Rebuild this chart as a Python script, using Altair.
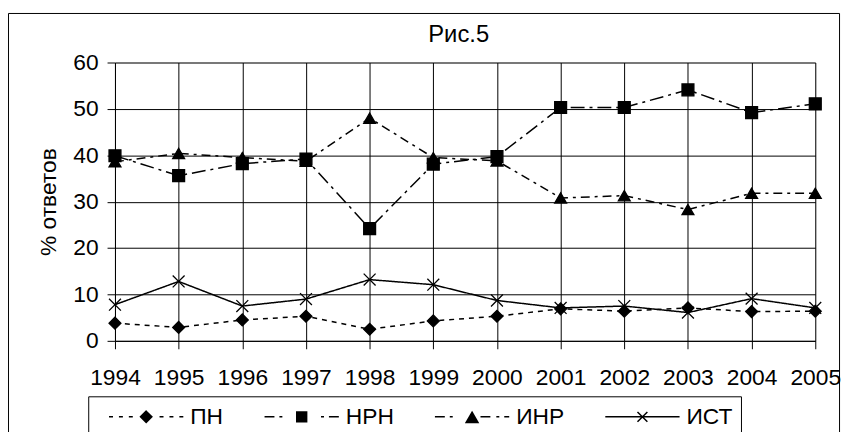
import math
import altair as alt
import pandas as pd

# ---------------- data ----------------
years = list(range(1994, 2006))
series_names = ["ПН", "НРН", "ИНР", "ИСТ"]
pn = [3.8, 2.9, 4.5, 5.3, 2.5, 4.3, 5.3, 6.9, 6.4, 7.1, 6.3, 6.4]
nrn = [39.9, 35.6, 38.2, 39.2, 24.2, 38.1, 39.7, 50.3, 50.3, 54.1, 49.2, 51.1]
inr = [38.6, 40.4, 39.5, 38.7, 48.0, 39.5, 38.8, 30.8, 31.3, 28.3, 31.8, 31.8]
ist = [7.8, 12.8, 7.5, 9.0, 13.2, 12.1, 8.7, 7.1, 7.5, 6.1, 9.1, 7.1]
y_ticks = [0, 10, 20, 30, 40, 50, 60]
title_text = "Рис.5"
y_title = "% ответов"

FONT = "Liberation Sans"

rows = []
for name, vals in zip(series_names, [pn, nrn, inr, ist]):
    for yr, v in zip(years, vals):
        rows.append({"year": yr, "value": v, "series": name})
df = pd.DataFrame(rows)

# ---------------- styles ----------------
dashes = [[5, 5], [14, 5, 3, 5], [9, 5, 3, 5], [1, 0]]
X_PATH = "M-1,-1L1,1M-1,1L1,-1"
marker_shapes = ["diamond", "square", "triangle-up", X_PATH]

# legend symbols: line pattern + marker, drawn as custom stroked paths
S = 23.5          # sqrt(symbolSize)
SW = 1.5          # symbol stroke width
U = S / 2.0       # px per path unit
C = math.ceil(S + SW) / 2.0   # centre of symbol box from entry start


def _pt(x, y):
    return f"{(x - C) / U:.4f},{y / U:.4f}"


def legend_path(segs, marker, start=13.0, length=75.0):
    mx = start + length / 2.0
    parts = []
    for a, b in segs:
        parts.append(f"M{_pt(start + a, 0)}L{_pt(start + b, 0)}")
    if marker == "x":
        parts.append(f"M{_pt(mx - 5, -5)}L{_pt(mx + 5, 5)}M{_pt(mx - 5, 5)}L{_pt(mx + 5, -5)}")
        return "".join(parts)
    # solid markers: nested outlines so the stroke fills them
    for r in [5.0, 4.0, 3.0, 2.0, 1.0, 0.3]:
        if marker == "diamond":
            q = r * 1.15
            parts.append(f"M{_pt(mx, -q)}L{_pt(mx + q, 0)}L{_pt(mx, q)}L{_pt(mx - q, 0)}Z")
        elif marker == "square":
            parts.append(f"M{_pt(mx - r, -r)}L{_pt(mx + r, -r)}L{_pt(mx + r, r)}L{_pt(mx - r, r)}Z")
        else:
            k = r / 5.0
            parts.append(
                f"M{_pt(mx, -5.5 * k + 0.8)}L{_pt(mx + 6 * k, 5 * k + 0.8)}L{_pt(mx - 6 * k, 5 * k + 0.8)}Z"
            )
    return "".join(parts)


legend_paths = [
    legend_path([(0, 4), (10, 14), (20, 24), (51, 55), (61, 65), (71, 75)], "diamond"),
    legend_path([(0, 10), (15, 18), (57, 60), (65, 75)], "square"),
    legend_path([(0, 10), (15, 18), (46, 56), (62, 65), (70, 75)], "triangle"),
    legend_path([(0, 75)], "x"),
]

x_enc = alt.X(
    "year:Q",
    scale=alt.Scale(domain=[1994, 2005], nice=False, zero=False),
    axis=alt.Axis(
        values=years, format="d", title=None, grid=True, gridColor="black",
        gridOpacity=1, tickColor="black", tickSize=8, domainColor="black",
        labelFontSize=23, labelFont=FONT, labelColor="black", labelPadding=18,
        labelFlush=False, labelOverlap=False,
    ),
)
y_enc = alt.Y(
    "value:Q",
    scale=alt.Scale(domain=[0, 60], nice=False),
    axis=alt.Axis(
        values=y_ticks, title=y_title, grid=True, gridColor="black", gridOpacity=1,
        tickColor="black", tickSize=8, domainColor="black",
        labelFontSize=23, labelFont=FONT, labelColor="black", labelPadding=9,
        titleFontSize=23, titleFont=FONT, titleFontWeight="normal",
        titleColor="black", titlePadding=12,
    ),
)

lines = alt.Chart(df).mark_line(color="black", strokeWidth=1.5).encode(
    x=x_enc,
    y=y_enc,
    strokeDash=alt.StrokeDash(
        "series:N",
        scale=alt.Scale(domain=series_names, range=dashes),
        legend=None,
    ),
    detail="series:N",
)

points = alt.Chart(df).mark_point(
    filled=True, color="black", stroke="black", strokeWidth=1.3, opacity=1, size=144
).encode(
    x="year:Q",
    y="value:Q",
    shape=alt.Shape(
        "series:N",
        scale=alt.Scale(domain=series_names, range=marker_shapes),
        legend=None,
    ),
)

legend_layer = alt.Chart(df).transform_filter("datum.value < -1000").mark_point(
    filled=False, color="black", strokeWidth=SW, opacity=1
).encode(
    x="year:Q",
    y="value:Q",
    shape=alt.Shape(
        "series:N",
        scale=alt.Scale(domain=series_names, range=legend_paths),
        legend=alt.Legend(
            title=None, orient="none", legendX=-27, legendY=337,
            direction="horizontal", symbolSize=S * S, symbolStrokeWidth=SW,
            symbolStrokeColor="black", symbolOpacity=1,
            labelFontSize=23, labelFont=FONT, labelColor="black",
            labelOffset=95 - 2 * C, columnPadding=28, padding=8,
            strokeColor="black", fillColor="white", cornerRadius=0,
            labelLimit=0,
        ),
    ),
)

frame = alt.Chart(pd.DataFrame({"k": [0]})).mark_rect(
    fillOpacity=0, stroke="black", strokeWidth=1
).encode(
    x=alt.value(-107.5), x2=alt.value(731.5),
    y=alt.value(-49.5), y2=alt.value(420),
)

title = alt.Chart(pd.DataFrame({"t": [title_text]})).mark_text(
    fontSize=24, font=FONT, color="black", align="center", baseline="alphabetic"
).encode(text="t:N", x=alt.value(347), y=alt.value(-21))

chart = alt.layer(frame, lines, points, legend_layer, title).resolve_scale(
    shape="independent", strokeDash="independent"
).properties(
    width=707,
    height=281,
    autosize=alt.AutoSizeParams(type="none"),
    padding={"left": 108, "top": 53, "right": 29, "bottom": 90},
).configure_view(strokeWidth=0).configure(background="white")

chart.save("out.html", embed_options={"renderer": "svg", "actions": False})
